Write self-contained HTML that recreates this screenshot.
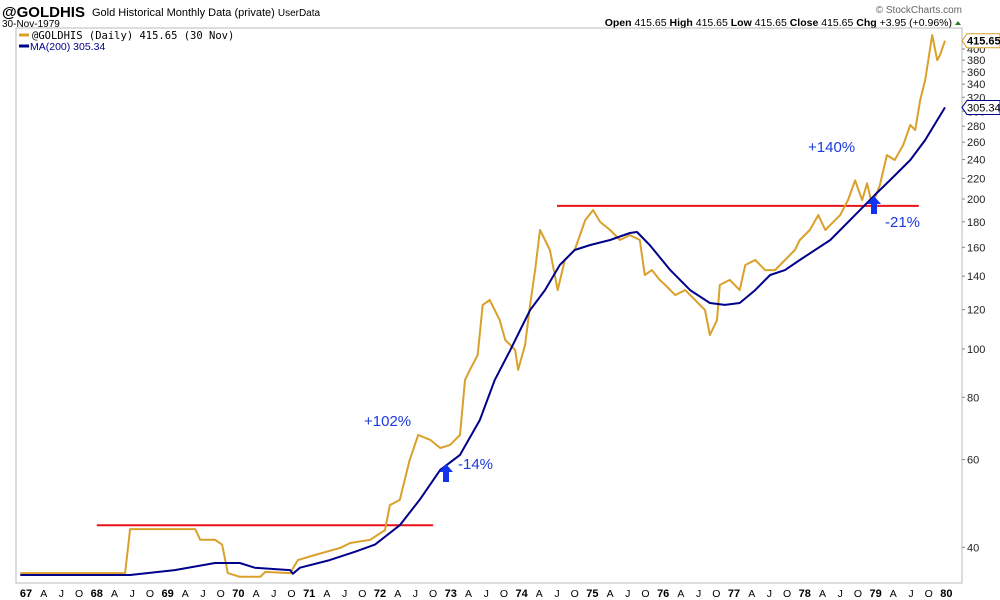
<!DOCTYPE html>
<html><head><meta charset="utf-8"><style>
body{margin:0;background:#fff;}
svg{display:block;font-family:"Liberation Sans",sans-serif;}
</style></head><body>
<svg id="chart" width="1000" height="600" viewBox="0 0 1000 600">
<rect width="1000" height="600" fill="#fff"/>
<text x="2" y="17" font-size="15" font-weight="bold">@GOLDHIS</text>
<text x="92" y="16" font-size="11">Gold Historical Monthly Data (private) <tspan font-size="10">UserData</tspan></text>
<text x="2" y="27" font-size="10">30-Nov-1979</text>
<text x="962" y="13" font-size="10" fill="#666" text-anchor="end">© StockCharts.com</text>
<text x="952" y="26" font-size="10.5" text-anchor="end"><tspan font-weight="bold">Open</tspan> 415.65  <tspan font-weight="bold">High</tspan> 415.65  <tspan font-weight="bold">Low</tspan> 415.65  <tspan font-weight="bold">Close</tspan> 415.65  <tspan font-weight="bold">Chg</tspan> +3.95 (+0.96%)</text>
<polygon points="955,25 961,25 958,21" fill="#2a7a2a"/>
<path d="M16,583 L16,28 L962,28 L962,583 Z" fill="none" stroke="#bbb" stroke-width="1"/>
<g id="ticks"></g>
<g id="marks"></g>
<g>
<line x1="19" y1="35" x2="29" y2="35" stroke="#d9a02a" stroke-width="3"/>
<text x="32" y="39" font-size="10.5" font-family="DejaVu Sans Mono, Liberation Mono, monospace">@GOLDHIS (Daily) 415.65 (30 Nov)</text>
<line x1="19" y1="46" x2="29" y2="46" stroke="#00008b" stroke-width="3"/>
<text x="30" y="50" font-size="10.5" fill="#00008b">MA(200) 305.34</text>
</g>
<text x="364" y="426" font-size="15" fill="#1a3adb">+102%</text>
<text x="458" y="469" font-size="15" fill="#1a3adb">-14%</text>
<polygon points="446,464 453,472 449,472 449,482 443,482 443,472 439,472" fill="#1133ee"/>
<text x="808" y="152" font-size="15" fill="#1a3adb">+140%</text>
<text x="885" y="227" font-size="15" fill="#1a3adb">-21%</text>
<polygon points="874,196 881,204 877,204 877,214 871,214 871,204 867,204" fill="#1133ee"/>
</svg>
<script>
const goldT=[1966.92,1968.40,1968.47,1969.39,1969.46,1969.67,1969.77,1969.85,1970.02,1970.31,1970.38,1970.73,1970.84,1971.08,1971.44,1971.58,1971.86,1972.07,1972.14,1972.28,1972.42,1972.54,1972.71,1972.85,1972.99,1973.06,1973.13,1973.20,1973.27,1973.38,1973.45,1973.55,1973.69,1973.77,1973.84,1973.91,1973.95,1974.05,1974.12,1974.19,1974.26,1974.33,1974.40,1974.51,1974.61,1974.75,1974.90,1975.01,1975.11,1975.25,1975.39,1975.53,1975.67,1975.74,1975.84,1975.95,1976.03,1976.17,1976.31,1976.45,1976.59,1976.66,1976.76,1976.80,1976.94,1977.08,1977.16,1977.30,1977.44,1977.58,1977.72,1977.86,1977.93,1978.07,1978.19,1978.29,1978.36,1978.50,1978.61,1978.71,1978.81,1978.88,1978.95,1979.06,1979.16,1979.27,1979.39,1979.49,1979.56,1979.63,1979.70,1979.80,1979.87,1979.91,1979.98];
const goldV=[35.5,35.5,43.5,43.5,41.4,41.4,40.5,35.5,34.9,34.9,35.7,35.5,37.7,38.6,39.9,40.8,41.4,43.3,48.6,49.8,59.9,67.2,65.7,63.3,64.2,65.7,67.2,86.6,90.8,97.3,122.6,125.4,114.3,104.2,101.9,99.5,90.8,101.9,122.6,144,173.3,165.5,158,131.3,150.9,158,181.5,190,179.8,173.3,165.5,169.3,165.5,140.8,144,137.6,134.4,128.3,131.3,125.4,119.7,106.7,114.3,134.4,137.6,131.3,147.4,150.9,144,144,150.9,158,165.5,173.3,185.7,173.3,177.4,185.7,199,218,199,215,194.5,213,245,239.5,256.7,281.5,275,316,346.6,426.7,380,389,415.65];
const maT=[1966.92,1968.47,1969.10,1969.67,1970.02,1970.23,1970.73,1970.77,1970.87,1971.29,1971.65,1971.93,1972.28,1972.56,1972.85,1973.13,1973.41,1973.62,1973.84,1973.98,1974.12,1974.33,1974.54,1974.75,1974.97,1975.25,1975.53,1975.63,1975.81,1976.10,1976.38,1976.66,1976.87,1977.08,1977.30,1977.51,1977.72,1977.93,1978.36,1978.78,1978.99,1979.20,1979.49,1979.70,1979.98];
const maV=[35.2,35.2,36,37.2,37.2,36.4,36,35.4,36.4,37.7,39.2,40.5,44.3,49.8,57.2,61.3,72,86.6,99.5,109.2,119.7,131.3,147.4,158,161.7,165.5,170.9,171.7,161.7,144,131.3,123.7,122.6,123.7,131.3,140.8,144,150.9,165.5,190,203.8,218,239.5,262.7,305.34];
const yTicks=[40,60,80,100,120,140,160,180,200,220,240,260,280,300,320,340,360,380,400];
const yearLabels=["67","68","69","70","71","72","73","74","75","76","77","78","79","80"];
const quarterLabels=["A","J","O"];
const resistance=[{t0:1968.0,t1:1972.75,v:44.3},{t0:1974.5,t1:1979.61,v:193.7}];
const lastGold=415.65, lastMA=305.34;

const NS="http://www.w3.org/2000/svg";
function xs(t){return 26+(t-1967)*70.8;}
function ys(v){return 349-150*Math.log2(v/100);}
function mk(tag,attrs,parent){const e=document.createElementNS(NS,tag);for(const k in attrs)e.setAttribute(k,attrs[k]);parent.appendChild(e);return e;}
const ticks=document.getElementById('ticks');
const marks=document.getElementById('marks');
yTicks.forEach(v=>{
  const y=ys(v);
  const l=mk('line',{x1:962,x2:965,y1:y,y2:y,stroke:'#888'},ticks);
  
  
  const t=mk('text',{x:967,y:y+4,'font-size':11,fill:'#222'},ticks);
  t.textContent=v;
  
  
});
yearLabels.forEach((lab,i)=>{
  const x=xs(1967+i);
  const t=mk('text',{x:x,y:597,'font-size':11,'font-weight':'bold','text-anchor':'middle'},ticks);
  t.textContent=lab;
  
  
  if(i<yearLabels.length-1){
    quarterLabels.forEach((q,j)=>{
      const qt=mk('text',{x:xs(1967+i+(j+1)*0.25),y:597,'font-size':10.5,'text-anchor':'middle'},ticks);
      qt.textContent=q;
      
      
    });
  }
});
resistance.forEach(r=>{
  const l=mk('line',{x1:xs(r.t0),x2:xs(r.t1),y1:ys(r.v),y2:ys(r.v),stroke:'#e8141a','stroke-width':2},marks);
  
  
});
function path(T,V,color,w,name){
  const d=T.map((t,i)=>(i?'L':'M')+xs(t).toFixed(1)+','+ys(V[i]).toFixed(1)).join(' ');
  const p=mk('path',{d:d,fill:'none',stroke:color,'stroke-width':w,'stroke-linejoin':'round'},marks);
  
  
}
path(goldT,goldV,'#d9a02a',2,'gold-price-line');
path(maT,maV,'#00008b',2,'ma200-line');
function badge(v,color,name){
  const y=ys(v);
  const g=mk('g',{},ticks);
  
  
  mk('polygon',{points:`962,${y} 967,${y-7} 1000,${y-7} 1000,${y+7} 967,${y+7}`,fill:'#fff',stroke:color,'stroke-width':1},g);
  const t=mk('text',{x:967,y:y+4,'font-size':11,'font-weight':name==='last-price-badge'?'bold':'normal'},g);
  t.textContent=v.toFixed(2);
}
badge(lastGold,'#d9a02a','last-price-badge');
badge(lastMA,'#00008b','last-ma-badge');
</script>
</body></html>
